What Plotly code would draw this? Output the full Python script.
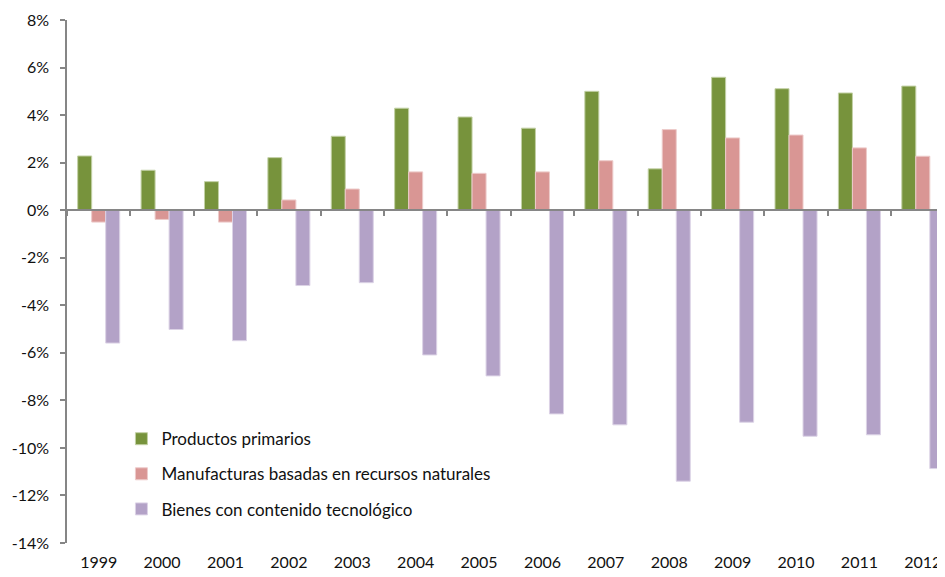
import plotly.graph_objects as go

years = [1999, 2000, 2001, 2002, 2003, 2004, 2005, 2006, 2007, 2008, 2009, 2010, 2011, 2012]
year_labels = [str(y) for y in years]
primarios = [2.28, 1.68, 1.20, 2.21, 3.11, 4.29, 3.92, 3.45, 5.00, 1.74, 5.59, 5.11, 4.93, 5.22]
manufacturas = [-0.50, -0.39, -0.50, 0.43, 0.89, 1.61, 1.55, 1.61, 2.08, 3.39, 3.04, 3.16, 2.62, 2.27]
tecnologicos = [-5.59, -5.02, -5.49, -3.17, -3.05, -6.09, -6.97, -8.57, -9.03, -11.40, -8.92, -9.51, -9.45, -10.87]
names = ["Productos primarios", "Manufacturas basadas en recursos naturales", "Bienes con contenido tecnológico"]
colors = ["#77933C", "#D99694", "#B3A2C7"]
edge_colors = ["#C3D1A6", "#EDCBCA", "#DCD3E6"]
y_ticks = [-14, -12, -10, -8, -6, -4, -2, 0, 2, 4, 6, 8]
y_ticktext = [f"{v}%" for v in y_ticks]
boundaries = [y - 0.5 for y in years] + [years[-1] + 0.5]

x_range = [1998.5, 2012.35]
font_family = "Lato, 'Open Sans', sans-serif"

fig = go.Figure()
for name, vals, c, ec, g in zip(names, [primarios, manufacturas, tecnologicos], colors, edge_colors, ["a", "b", "c"]):
    fig.add_trace(go.Bar(x=years, y=vals, name=name, marker=dict(color=c, line=dict(color=ec, width=1)),
                         legendgroup=g))

# dummy trace to activate the zero-line axis
fig.add_trace(go.Scatter(x=[years[0]], y=[0], xaxis="x2", mode="none", showlegend=False, hoverinfo="skip"))

fig.update_layout(
    width=937, height=569,
    margin=dict(l=59, r=0, t=12, b=33.5, autoexpand=False),
    paper_bgcolor="white", plot_bgcolor="white",
    barmode="group", bargap=0.337, bargroupgap=0,
    font=dict(family=font_family, size=16, color="#111111"),
    xaxis=dict(range=x_range, tickmode="array", tickvals=years, ticktext=year_labels,
               showline=False, showgrid=False, zeroline=False, ticks="outside", ticklen=5,
               tickcolor="rgba(0,0,0,0)", tickfont=dict(size=16), automargin=False),
    xaxis2=dict(overlaying="x", anchor="free", position=14 / 22, range=x_range,
                tickmode="array", tickvals=boundaries, showticklabels=False,
                showline=True, linecolor="#868686", linewidth=1.5, ticks="outside", ticklen=5,
                tickcolor="#868686", tickwidth=1.5, showgrid=False, zeroline=False, automargin=False),
    yaxis=dict(range=[-14, 8], tickmode="array", tickvals=y_ticks, ticktext=y_ticktext,
               showline=True, linecolor="#868686", linewidth=1.5, ticks="outside", ticklen=5,
               tickcolor="#868686", tickwidth=1.5, showgrid=False, zeroline=False,
               tickfont=dict(size=16), ticklabelstandoff=8, automargin=False),
    legend=dict(x=0.062, y=0.233, xanchor="left", yanchor="top", bgcolor="rgba(0,0,0,0)",
                font=dict(size=17), traceorder="grouped", tracegroupgap=10, itemclick=False),
    showlegend=True,
)

fig.write_html("out.html")
